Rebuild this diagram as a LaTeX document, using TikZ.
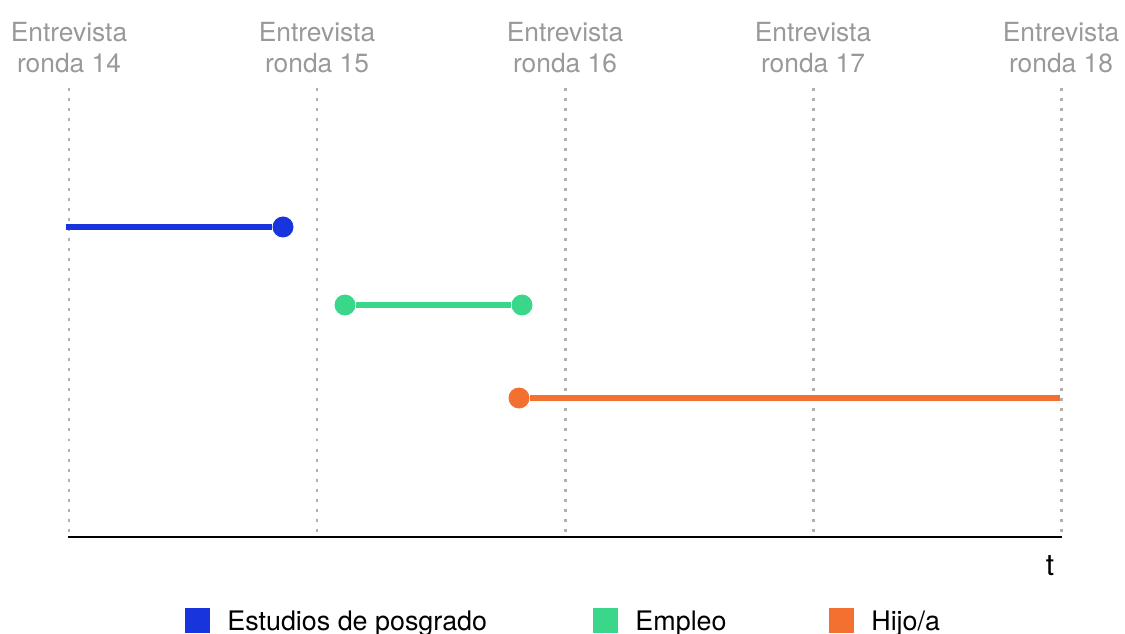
\documentclass[tikz,border=0pt]{standalone}
\usepackage{fontspec}
\setmainfont{TeX Gyre Heros}
\usetikzlibrary{positioning}
\definecolor{azul}{HTML}{1834DC}
\definecolor{verde}{HTML}{3AD68A}
\definecolor{naranja}{HTML}{F37030}
\definecolor{gris}{HTML}{B0B0B0}
\definecolor{grisTexto}{HTML}{999999}
\tikzset{ronda/.style={draw=gris, line width=1.7pt, dash pattern=on 1.7pt off 4pt}}
\tikzset{etiqueta/.style={text=grisTexto, align=center, inner sep=0pt, font=\fontsize{15}{17.8}\selectfont}}
\tikzset{tramo/.style={draw=#1, line width=3pt}}
\tikzset{punto/.style={circle, fill=#1, inner sep=0pt, minimum size=0.42cm}}
\tikzset{caja/.style={fill=#1, inner sep=0pt, minimum size=0.5cm}}
\tikzset{leyenda/.style={anchor=base west, inner sep=0pt, font=\fontsize{15.3}{18}\selectfont}}

\begin{document}
\begin{tikzpicture}[x=0.02cm, y=-0.02cm]
\useasboundingbox (0,0) rectangle (1125,634);
% rondas de entrevista
\foreach \r [count=\i from 0] in {14,...,18} {
  \coordinate (arriba\r) at (69+248*\i, 88);
  \coordinate (abajo\r) at (69+248*\i, 535);
  \draw[ronda] (arriba\r) -- (abajo\r);
  \node[etiqueta, anchor=north] (etq\r) at (69+248*\i, 22) {Entrevista\\ronda \r};
}
% eje del tiempo
\coordinate (ejeIni) at (68,537);
\coordinate (ejeFin) at (1062,537);
\draw[line width=1.6pt] (ejeIni) -- (ejeFin);
\node[inner sep=0pt, font=\fontsize{17}{20}\selectfont] (tiempo) at (1050,566) {t};
% estudios de posgrado
\coordinate (iniA) at (66,227);
\node[punto=azul] (finA) at (283,227) {};
\draw[tramo=azul] (iniA) -- (finA);
% empleo
\node[punto=verde] (iniB) at (345,305) {};
\node[punto=verde] (finB) at (522,305) {};
\draw[tramo=verde] (iniB) -- (finB);
% hijo/a
\node[punto=naranja] (iniC) at (519,398) {};
\coordinate (finC) at (1060,398);
\draw[tramo=naranja] (iniC) -- (finC);
% leyenda
\node[caja=azul] (cajaA) at (197.5,620.5) {};
\node[leyenda] (leyA) at (227,630) {Estudios de posgrado};
\node[caja=verde] (cajaB) at (605.5,620.5) {};
\node[leyenda] (leyB) at (635,630) {Empleo};
\node[caja=naranja] (cajaC) at (841.5,620.5) {};
\node[leyenda] (leyC) at (871,630) {Hijo/a};
\end{tikzpicture}
\end{document}
